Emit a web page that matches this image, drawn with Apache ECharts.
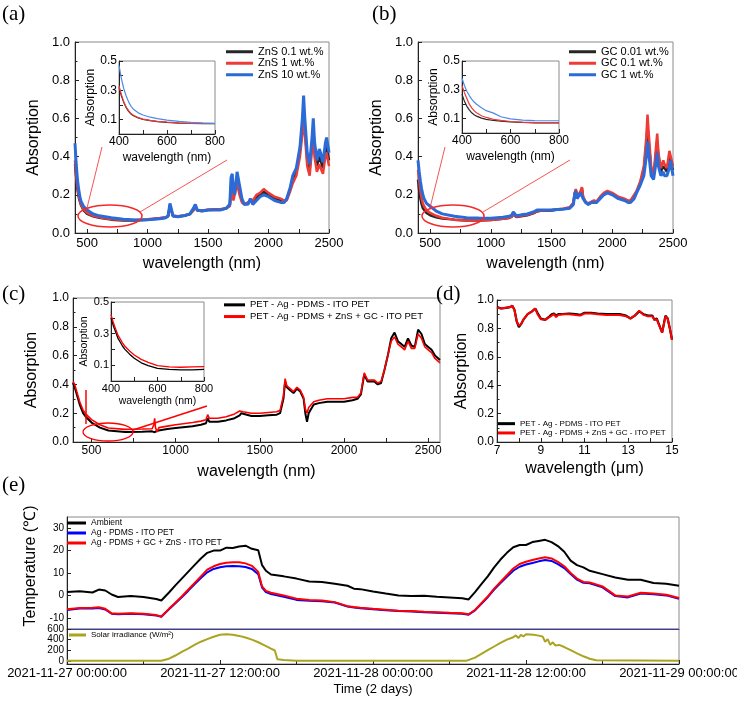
<!DOCTYPE html>
<html><head><meta charset="utf-8">
<script src="https://cdn.jsdelivr.net/npm/echarts@6/dist/echarts.min.js"></script>
<style>html,body{margin:0;padding:0;background:#fff}#c{width:737px;height:704px}</style>
</head><body><div id="c"></div>
<script>
// ---------- DATA ----------
const WL_AB = [400,410,420,430,440,450,470,500,550,600,700,800,900,1000,1100,1150,1170,1185,1195,1210,1250,1300,1350,1380,1395,1410,1450,1500,1550,1600,1650,1680,1690,1700,1710,1720,1740,1750,1760,1780,1800,1830,1850,1870,1900,1930,1960,2000,2050,2100,2130,2150,2180,2200,2230,2260,2280,2290,2300,2320,2340,2360,2370,2380,2400,2420,2430,2450,2470,2480,2500];
const A_ZNS01 = [0.36,0.29,0.23,0.19,0.165, 0.145,0.12,0.10,0.087,0.08, 0.07,0.066,0.066,0.07,0.076, 0.08,0.088,0.145,0.12,0.088, 0.086,0.09,0.098,0.12,0.145, 0.118,0.115,0.12,0.122,0.122, 0.128,0.145,0.25,0.27,0.19, 0.18,0.29,0.30,0.22,0.17, 0.15,0.155,0.175,0.16,0.185, 0.20,0.215,0.20,0.18,0.17, 0.165,0.175,0.23,0.28,0.32, 0.43,0.56,0.66,0.56,0.38, 0.33,0.47,0.56,0.44,0.35, 0.40,0.38,0.34,0.44,0.46, 0.38];
const A_ZNS1 = [0.38,0.30,0.24,0.20,0.17, 0.15,0.125,0.105,0.09,0.082, 0.072,0.068,0.068,0.072,0.078, 0.082,0.09,0.14,0.12,0.09, 0.088,0.092,0.10,0.12,0.14, 0.12,0.118,0.122,0.125,0.125, 0.13,0.14,0.20,0.22,0.17, 0.16,0.26,0.27,0.20,0.16, 0.15,0.16,0.17,0.17,0.20, 0.21,0.23,0.21,0.19,0.18, 0.17,0.17,0.22,0.26,0.30, 0.40,0.52,0.62,0.52,0.35, 0.30,0.44,0.52,0.40,0.32, 0.36,0.34,0.31,0.40,0.42, 0.35];
const A_ZNS10 = [0.47,0.36,0.28,0.23,0.19, 0.165,0.14,0.12,0.10,0.09, 0.08,0.072,0.068,0.07,0.075, 0.08,0.09,0.155,0.13,0.09, 0.085,0.09,0.10,0.13,0.15, 0.12,0.115,0.12,0.12,0.12, 0.13,0.15,0.29,0.31,0.22, 0.20,0.32,0.33,0.25,0.18, 0.15,0.15,0.18,0.15,0.17, 0.19,0.20,0.19,0.17,0.16, 0.16,0.18,0.24,0.30,0.34, 0.45,0.60,0.72,0.60,0.42, 0.36,0.50,0.60,0.48,0.38, 0.44,0.42,0.37,0.47,0.50, 0.42];
const B_GC001 = [0.28,0.22,0.18,0.15,0.13, 0.12,0.105,0.093,0.082,0.076, 0.07,0.066,0.066,0.068,0.074, 0.079,0.084,0.098,0.093,0.084, 0.088,0.093,0.103,0.113,0.118, 0.116,0.116,0.118,0.123,0.126, 0.133,0.155,0.205,0.225,0.185, 0.175,0.215,0.235,0.185,0.16, 0.15,0.16,0.165,0.16,0.185, 0.205,0.215,0.205,0.185,0.175, 0.165,0.165,0.195,0.215,0.26, 0.33,0.46,0.56,0.48,0.33, 0.29,0.42,0.48,0.40,0.32, 0.35,0.34,0.32,0.40,0.41, 0.33];
const B_GC01 = [0.33,0.27,0.22,0.18,0.155, 0.14,0.12,0.105,0.09,0.08, 0.07,0.066,0.066,0.068,0.074, 0.08,0.085,0.10,0.095,0.085, 0.09,0.095,0.105,0.115,0.12, 0.118,0.118,0.12,0.125,0.128, 0.135,0.16,0.21,0.23,0.19, 0.18,0.22,0.24,0.19,0.165, 0.155,0.165,0.17,0.165,0.19, 0.21,0.22,0.21,0.19,0.18, 0.17,0.17,0.20,0.22,0.27, 0.35,0.50,0.62,0.52,0.35, 0.30,0.45,0.52,0.42,0.34, 0.38,0.36,0.34,0.43,0.44, 0.35];
const B_GC1 = [0.38,0.32,0.27,0.23,0.20, 0.18,0.155,0.14,0.115,0.10, 0.088,0.08,0.078,0.077,0.082, 0.088,0.092,0.11,0.10,0.09, 0.095,0.10,0.11,0.12,0.125, 0.12,0.12,0.12,0.123,0.125, 0.13,0.15,0.20,0.22,0.18, 0.17,0.21,0.22,0.18,0.16, 0.15,0.16,0.16,0.16,0.18, 0.20,0.21,0.20,0.18,0.17, 0.16,0.16,0.18,0.21,0.25, 0.30,0.40,0.48,0.42,0.30, 0.28,0.37,0.42,0.35,0.30, 0.32,0.30,0.30,0.34,0.38, 0.30];

const WL_IN = [400,410,420,430,440,450,460,480,500,530,560,600,650,700,750,800];
const AI_ZNS01 = [0.32,0.26,0.215,0.18,0.155,0.137,0.125,0.11,0.10,0.091,0.085,0.079,0.075,0.072,0.071,0.071];
const AI_ZNS1 = [0.33,0.27,0.22,0.185,0.16,0.14,0.128,0.112,0.102,0.093,0.087,0.081,0.076,0.073,0.072,0.072];
const AI_ZNS10 = [0.47,0.38,0.31,0.26,0.22,0.19,0.17,0.145,0.13,0.115,0.105,0.095,0.087,0.08,0.076,0.073];
const BI_GC001 = [0.27,0.22,0.185,0.16,0.14,0.127,0.117,0.103,0.095,0.087,0.082,0.077,0.073,0.071,0.071,0.071];
const BI_GC01 = [0.33,0.28,0.24,0.20,0.175,0.155,0.14,0.12,0.108,0.095,0.088,0.08,0.075,0.072,0.072,0.072];
const BI_GC1 = [0.38,0.33,0.29,0.26,0.235,0.215,0.20,0.175,0.155,0.138,0.113,0.098,0.09,0.086,0.085,0.085];
const CI_REF = [0.40,0.35,0.31,0.27,0.245,0.22,0.20,0.17,0.144,0.115,0.097,0.08,0.073,0.07,0.071,0.074];
const CI_MOD = [0.42,0.37,0.33,0.29,0.265,0.24,0.22,0.19,0.165,0.137,0.118,0.097,0.09,0.087,0.089,0.091];

const WL_C = [390,400,410,420,430,450,470,500,550,600,700,800,860,870,875,880,890,900,950,1000,1100,1150,1180,1190,1200,1250,1300,1350,1380,1390,1400,1450,1500,1550,1600,1620,1640,1650,1660,1680,1700,1720,1740,1760,1770,1780,1790,1800,1820,1850,1900,1950,2000,2050,2080,2100,2120,2140,2180,2200,2220,2240,2260,2280,2300,2320,2340,2360,2380,2400,2420,2440,2460,2480,2500,2520,2540,2560,2570];
const C_REF = [0.41,0.38,0.34,0.30,0.26, 0.20,0.17,0.135,0.10,0.08, 0.07,0.072,0.074,0.075,0.068, 0.06,0.078,0.082,0.09,0.097, 0.11,0.12,0.13,0.165,0.14, 0.14,0.15,0.165,0.185,0.20, 0.19,0.18,0.18,0.185,0.19, 0.20,0.30,0.42,0.38,0.36, 0.34,0.37,0.35,0.30,0.20, 0.14,0.20,0.22,0.26,0.27, 0.28,0.28,0.28,0.29,0.30, 0.33,0.47,0.42,0.42,0.40, 0.41,0.50,0.60,0.72,0.76, 0.70,0.68,0.66,0.72,0.67, 0.66,0.78,0.75,0.68,0.66, 0.64,0.60,0.58,0.57];
const C_MOD = [0.42,0.40,0.36,0.32,0.28, 0.22,0.19,0.155,0.12,0.097, 0.088,0.09,0.092,0.12,0.165, 0.10,0.07,0.10,0.11,0.12, 0.135,0.145,0.155,0.19,0.165, 0.165,0.175,0.195,0.215,0.225, 0.21,0.20,0.20,0.205,0.21, 0.22,0.32,0.44,0.39,0.37, 0.35,0.38,0.36,0.31,0.23, 0.20,0.24,0.25,0.28,0.29, 0.30,0.30,0.30,0.31,0.31, 0.34,0.48,0.43,0.43,0.41, 0.42,0.50,0.60,0.70,0.73, 0.68,0.66,0.64,0.70,0.65, 0.65,0.75,0.72,0.66,0.64, 0.62,0.58,0.56,0.55];

const WL_D = [7,7.2,7.4,7.6,7.7,7.8,7.9,8.0,8.1,8.2,8.4,8.6,8.75,8.85,9.0,9.2,9.4,9.5,9.6,9.7,9.8,10,10.3,10.6,10.8,11,11.3,11.6,12,12.3,12.6,12.9,13.1,13.3,13.5,13.7,13.9,14.1,14.2,14.3,14.4,14.55,14.7,14.8,14.9,15];
const D_REF = [0.95,0.94,0.945,0.95,0.96, 0.93,0.85,0.81,0.83,0.86, 0.90,0.92,0.94,0.91,0.87, 0.86,0.885,0.90,0.905,0.89, 0.90,0.90,0.905,0.90,0.895, 0.91,0.91,0.905,0.90,0.90, 0.90,0.89,0.87,0.89,0.92, 0.90,0.89,0.89,0.86,0.87, 0.83,0.77,0.89,0.87,0.80, 0.72];
const D_MOD = [0.945,0.94,0.945,0.95,0.96, 0.93,0.85,0.82,0.83,0.86, 0.90,0.92,0.94,0.90,0.865, 0.86,0.88,0.89,0.90,0.88, 0.895,0.90,0.90,0.895,0.89, 0.905,0.905,0.90,0.895,0.895, 0.895,0.885,0.87,0.89,0.925, 0.895,0.885,0.885,0.86,0.865, 0.825,0.77,0.885,0.87,0.80, 0.72];

const TIME_H = [0,1,2,2.5,3,3.5,4,5,6,7,7.4,8,8.5,9,9.5,10,10.5,11,11.5,12,12.5,13,13.5,14,14.5,15,15.3,15.6,16,17,18,19,20,21,22,22.5,23,24,25,26,27,28,29,30,31,31.5,32,32.5,33,33.5,34,34.5,35,35.5,36,36.5,37,37.5,38,38.5,39,39.5,40,40.5,41,42,43,44,45,46,47,48];
const T_AMB = [1.5,1.9,1.3,2.6,2.2, 0.4,-0.7,-0.3,-0.7,-1.6, -2.3,1.3,4.5,7.5,10.5, 13.5,16.5,19,20,20, 21.3,21.2,21.8,22.2,20.8, 20.2,13.5,11,9.3,8.5, 7.5,6.2,6,5.2,4.3, 3,2.8,1.7,0.8,0, -0.3,-0.2,-0.6,-0.9,-1.3, -1.8,1.5,5,8.5,12.5, 16,19,21.5,22.5,22.5, 23.8,24.3,24.8,23.8,22, 19.5,15.5,13.5,12.5,11, 9.5,8,7,7,5.5, 5.2,4.3];
const T_REF = [-6.5,-5.9,-5.8,-5.6,-6.3, -8.2,-8.4,-8.2,-8.4,-9, -9.5,-6.2,-3.5,-0.8,2, 5,7.8,10.3,11.8,12.6, 13,13.1,13,12.7,11.8, 9.5,3.5,1.5,0.6,-0.6, -2,-2.4,-2.6,-3.2,-5, -5.4,-5.7,-6.2,-6.6,-7, -7.2,-7.5,-7.7,-8,-8.2, -8.6,-6.7,-3.8,-0.8,2.6, 5.5,8.3,11,12.8,13.8, 14.5,15.2,15.8,15.4,14, 12.2,9.5,7,5.6,5.4, 3.6,-0.3,-0.9,0.8,0.5, 0,-1.5];
const T_MOD = [-6.2,-5.6,-5.5,-5.3,-6, -8,-8.2,-8,-8.2,-8.8, -9.4,-6,-3.3,-0.5,2.5, 5.5,8.5,11.5,13,14, 14.6,14.8,14.8,14.3,13.2, 10.5,4,2,1.2,0, -1.5,-2,-2.3,-3,-4.8, -5.2,-5.5,-6,-6.4,-6.8, -7,-7.3,-7.5,-7.8,-8, -8.4,-6.5,-3.5,-0.5,3, 6,9,12,14,15, 15.8,16.5,17,16.5,15, 13,10,7.5,6,5.8, 4,0,-0.5,1.2,0.8, 0.3,-1.2];
const SOLAR_H = [0,7.4,8,8.5,9,9.5,10,10.5,11,11.5,12,12.5,13,13.5,14,14.5,15,15.5,16,16.3,16.5,17,18,31.3,32,32.5,33,33.5,34,34.5,35,35.2,35.4,35.6,35.8,36,36.3,36.6,37,37.3,37.5,37.7,37.9,38.1,38.3,38.6,39,39.5,40,40.5,41,41.5,48];
const SOLAR_W = [0,0,40,100,170, 230,300,360,410,455, 490,500,490,470,440, 400,350,290,230,195, 30,15,0,0,60, 130,200,270,340,400, 445,480,430,490,460, 500,495,490,475,460, 360,410,300,350,290, 300,260,200,140,85, 40,10,0];

const TICKS_WL = [500,1000,1500,2000,2500];
const TICKS_IN = [400,600,800];
const TICKS_IN_Y = [0.1,0.3,0.5];
const TICKS_UM = [7,9,11,13,15];
const TICKS_T = [-10,0,10,20,30];
const TICKS_S = [0,200,400,600];
const TICK_H = [0,12,24,36,48];
const TICK_H_LABELS = ['2021-11-27 00:00:00','2021-11-27 12:00:00','2021-11-28 00:00:00','2021-11-28 12:00:00','2021-11-29 00:00:00'];

const NAMES_A = ['ZnS 0.1 wt.%','ZnS 1 wt.%','ZnS 10 wt.%'];
const NAMES_B = ['GC 0.01 wt.%','GC 0.1 wt.%','GC 1 wt.%'];
const NAMES_CD = ['PET - Ag - PDMS - ITO PET','PET - Ag - PDMS + ZnS + GC - ITO PET'];
const NAMES_E = ['Ambient','Ag - PDMS - ITO PET','Ag - PDMS + GC + ZnS - ITO PET'];
const NAME_SOLAR = 'Solar irradiance (W/m²)';

// ---------- CHART ----------
const FONT = '"Liberation Sans", Arial, sans-serif';
const AXC = '#222';
const fix1 = v => v.toFixed(1);
const plain = v => String(v);
const halves = (a, b, s) => { const r = []; for (let v = a; v <= b + 1e-9; v += s) r.push(+v.toFixed(4)); return r; };

function xAx(gi, o) {
  return {
    type: 'value', gridIndex: gi, min: o.min, max: o.max,
    axisLine: {show: true, onZero: false, lineStyle: {color: o.lineColor || AXC, width: 1}},
    axisTick: {show: o.ticks !== null, inside: true, length: 4, customValues: o.ticks || undefined, lineStyle: {color: AXC}},
    axisLabel: {show: o.labels !== null, customValues: o.labels || undefined, fontSize: o.fs, fontFamily: FONT, color: '#000', margin: o.margin == null ? 4 : o.margin, formatter: o.fmt || plain, hideOverlap: false},
    splitLine: {show: false},
    name: o.name || '', nameLocation: 'middle', nameGap: o.nameGap || 0,
    nameTextStyle: {fontSize: o.nameFs || 12, fontFamily: FONT, color: '#000'}
  };
}
function yAx(gi, o) {
  const a = xAx(gi, o);
  if (o.interval) { a.interval = o.interval; a.axisTick.customValues = undefined; a.axisLabel.customValues = undefined; a.minorTick = {show: true, splitNumber: 2, length: 2.5, lineStyle: {color: AXC}}; }
  if (o.namePad) a.nameTextStyle.padding = o.namePad;
  return a;
}
function ln(name, gi, xs, ys, color, w, z) {
  return {type: 'line', name: name, xAxisIndex: gi, yAxisIndex: gi,
    data: xs.map((x, i) => [x, ys[i]]), showSymbol: false, symbol: 'none',
    lineStyle: {color: color, width: w}, itemStyle: {color: color}, z: z || 2, silent: true, animation: false};
}
function leg(left, top, names, iw, fs, lh) {
  return {left: left, top: top, orient: 'vertical', icon: 'rect', itemWidth: iw, itemHeight: 3, itemGap: 0, padding: 0,
    selectedMode: false, data: names, textStyle: {fontSize: fs, lineHeight: lh, fontFamily: FONT, color: '#000'}};
}

const gridBase = {show: true, borderColor: '#8a8a8a', borderWidth: 1, backgroundColor: 'transparent', containLabel: false, outerBoundsMode: 'none'};
const grids = [
  {left: 75, top: 42, width: 254, height: 191},
  {left: 119, top: 61, width: 96, height: 73},
  {left: 418, top: 42, width: 255, height: 191},
  {left: 462, top: 61, width: 97, height: 72},
  {left: 73, top: 298, width: 367, height: 144},
  {left: 111, top: 302, width: 93, height: 79},
  {left: 497, top: 300, width: 175, height: 142},
  {left: 67, top: 517, width: 612, height: 112},
  {left: 67, top: 629, width: 612, height: 35}
].map(g => Object.assign({}, gridBase, g));

const wlTicks = halves(500, 2500, 250);
const xAxes = [
  xAx(0, {min: 400, max: 2500, labels: TICKS_WL, ticks: wlTicks, fs: 13, name: 'wavelength (nm)', nameGap: 23, nameFs: 16}),
  xAx(1, {min: 400, max: 800, labels: TICKS_IN, ticks: halves(400, 800, 100), fs: 12, margin: 2, name: 'wavelength (nm)', nameGap: 18, nameFs: 12}),
  xAx(2, {min: 400, max: 2500, labels: TICKS_WL, ticks: wlTicks, fs: 13, name: 'wavelength (nm)', nameGap: 23, nameFs: 16}),
  xAx(3, {min: 400, max: 800, labels: TICKS_IN, ticks: halves(400, 800, 100), fs: 12, margin: 2, name: 'wavelength (nm)', nameGap: 18, nameFs: 12}),
  xAx(4, {min: 390, max: 2570, labels: TICKS_WL, ticks: wlTicks, fs: 12, margin: 3, name: 'wavelength (nm)', nameGap: 22, nameFs: 16}),
  xAx(5, {min: 400, max: 800, labels: TICKS_IN, ticks: halves(400, 800, 100), fs: 11, margin: 2, name: 'wavelength (nm)', nameGap: 15, nameFs: 10.5}),
  xAx(6, {min: 7, max: 15, labels: TICKS_UM, ticks: halves(7, 15, 1), fs: 12, margin: 3, name: 'wavelength (μm)', nameGap: 19, nameFs: 16}),
  xAx(7, {min: 0, max: 48, labels: null, ticks: null, fs: 10, lineColor: '#3c3ca8'}),
  xAx(8, {min: 0, max: 48, labels: TICK_H, ticks: halves(0, 48, 6), fs: 13, margin: 3, fmt: v => TICK_H_LABELS[TICK_H.indexOf(v)] || '', name: 'Time (2 days)', nameGap: 19, nameFs: 13})
];
const yAxes = [
  yAx(0, {min: 0, max: 1, interval: 0.2, fs: 13, fmt: fix1, margin: 5, name: 'Absorption', nameGap: 33, nameFs: 16}),
  yAx(1, {min: 0, max: 0.5, labels: TICKS_IN_Y, ticks: halves(0.1, 0.5, 0.1), fs: 12, fmt: fix1, margin: 2, name: 'Absorption', nameGap: 20, nameFs: 12}),
  yAx(2, {min: 0, max: 1, interval: 0.2, fs: 13, fmt: fix1, margin: 5, name: 'Absorption', nameGap: 33, nameFs: 16}),
  yAx(3, {min: 0, max: 0.5, labels: TICKS_IN_Y, ticks: halves(0.1, 0.5, 0.1), fs: 12, fmt: fix1, margin: 2, name: 'Absorption', nameGap: 20, nameFs: 12}),
  yAx(4, {min: 0, max: 1, interval: 0.2, fs: 12, fmt: fix1, margin: 4, name: 'Absorption', nameGap: 33, nameFs: 16}),
  yAx(5, {min: 0, max: 0.5, labels: TICKS_IN_Y, ticks: halves(0.1, 0.5, 0.1), fs: 11, fmt: fix1, margin: 2, name: 'Absorption', nameGap: 19, nameFs: 10.5}),
  yAx(6, {min: 0, max: 1, interval: 0.2, fs: 12, fmt: fix1, margin: 3, name: 'Absorption', nameGap: 27, nameFs: 16}),
  yAx(7, {min: -15, max: 35, labels: TICKS_T, ticks: TICKS_T, fs: 10, margin: 3, name: 'Temperature (℃)', nameGap: 20, nameFs: 16, namePad: [0, 0, 0, 14]}),
  yAx(8, {min: -60, max: 600, labels: TICKS_S, ticks: TICKS_S, fs: 10, margin: 3})
];

const BLK = '#262626', RED = '#ee3b36', BLU = '#2a6bd8';
const series = [
  ln(NAMES_A[0], 0, WL_AB, A_ZNS01, BLK, 2.5), ln(NAMES_A[1], 0, WL_AB, A_ZNS1, RED, 2.5), ln(NAMES_A[2], 0, WL_AB, A_ZNS10, BLU, 3),
  ln(NAMES_A[0], 1, WL_IN, AI_ZNS01, BLK, 1.2), ln(NAMES_A[1], 1, WL_IN, AI_ZNS1, RED, 1.2), ln(NAMES_A[2], 1, WL_IN, AI_ZNS10, '#4d8ae6', 1.2),
  ln(NAMES_B[0], 2, WL_AB, B_GC001, BLK, 2.5), ln(NAMES_B[1], 2, WL_AB, B_GC01, RED, 2.5), ln(NAMES_B[2], 2, WL_AB, B_GC1, BLU, 3),
  ln(NAMES_B[0], 3, WL_IN, BI_GC001, BLK, 1.2), ln(NAMES_B[1], 3, WL_IN, BI_GC01, RED, 1.2), ln(NAMES_B[2], 3, WL_IN, BI_GC1, '#4d8ae6', 1.2),
  ln(NAMES_CD[0], 4, WL_C, C_REF, '#000', 2), ln(NAMES_CD[1], 4, WL_C, C_MOD, '#ff0000', 1.6),
  ln(NAMES_CD[0], 5, WL_IN, CI_REF, '#000', 1.3), ln(NAMES_CD[1], 5, WL_IN, CI_MOD, '#ff0000', 1.3),
  ln(NAMES_CD[0], 6, WL_D, D_REF, '#000', 2.2), ln(NAMES_CD[1], 6, WL_D, D_MOD, '#ff0000', 2),
  ln(NAMES_E[0], 7, TIME_H, T_AMB, '#000', 2), ln(NAMES_E[1], 7, TIME_H, T_REF, '#0000ff', 2), ln(NAMES_E[2], 7, TIME_H, T_MOD, '#ff0000', 2),
  ln(NAME_SOLAR, 8, SOLAR_H, SOLAR_W, '#aba421', 2)
];

const serif = {fontFamily: '"Liberation Serif", "Times New Roman", serif', fontSize: 21, fontWeight: 'normal', color: '#000'};
const titles = [
  {text: '(a)', left: 2, top: 4}, {text: '(b)', left: 372, top: 4},
  {text: '(c)', left: 2, top: 284}, {text: '(d)', left: 436, top: 284}, {text: '(e)', left: 2, top: 475}
].map(t => Object.assign({padding: 0, textStyle: serif}, t));

const ANN = '#f22a2a';
const graphics = [
  {type: 'ellipse', shape: {cx: 110, cy: 216, rx: 32, ry: 11}, style: {fill: 'none', stroke: ANN, lineWidth: 1.5}},
  {type: 'line', shape: {x1: 87, y1: 208, x2: 102, y2: 147}, style: {stroke: ANN, lineWidth: 0.8}},
  {type: 'line', shape: {x1: 140, y1: 212, x2: 227, y2: 160}, style: {stroke: ANN, lineWidth: 0.8}},
  {type: 'ellipse', shape: {cx: 453, cy: 216, rx: 31, ry: 11}, style: {fill: 'none', stroke: ANN, lineWidth: 1.5}},
  {type: 'line', shape: {x1: 430, y1: 208, x2: 445, y2: 147}, style: {stroke: ANN, lineWidth: 0.8}},
  {type: 'line', shape: {x1: 483, y1: 212, x2: 570, y2: 160}, style: {stroke: ANN, lineWidth: 0.8}},
  {type: 'ellipse', shape: {cx: 108, cy: 432, rx: 25, ry: 9}, style: {fill: 'none', stroke: '#ff0000', lineWidth: 1.3}},
  {type: 'line', shape: {x1: 86, y1: 390, x2: 86, y2: 424}, style: {stroke: '#ff0000', lineWidth: 1.5}},
  {type: 'line', shape: {x1: 133, y1: 430, x2: 207, y2: 406}, style: {stroke: '#ff0000', lineWidth: 1.5}}
].map(g => Object.assign({z: 100, silent: true}, g));

const chart = echarts.init(document.getElementById('c'), null, {renderer: 'canvas'});
chart.setOption({
  animation: false,
  backgroundColor: '#fff',
  textStyle: {fontFamily: FONT},
  title: titles,
  grid: grids,
  xAxis: xAxes,
  yAxis: yAxes,
  legend: [
    leg(226, 46, NAMES_A, 27, 11, 11.5),
    leg(569, 46, NAMES_B, 27, 11, 11.5),
    leg(224, 299, NAMES_CD, 21, 9.5, 11.7),
    leg(498, 419, NAMES_CD, 17, 8, 9.3),
    leg(67, 518, NAMES_E, 19, 8.5, 10),
    leg(69, 630, [NAME_SOLAR], 17, 8, 10)
  ],
  series: series,
  graphic: graphics
});
</script></body></html>
